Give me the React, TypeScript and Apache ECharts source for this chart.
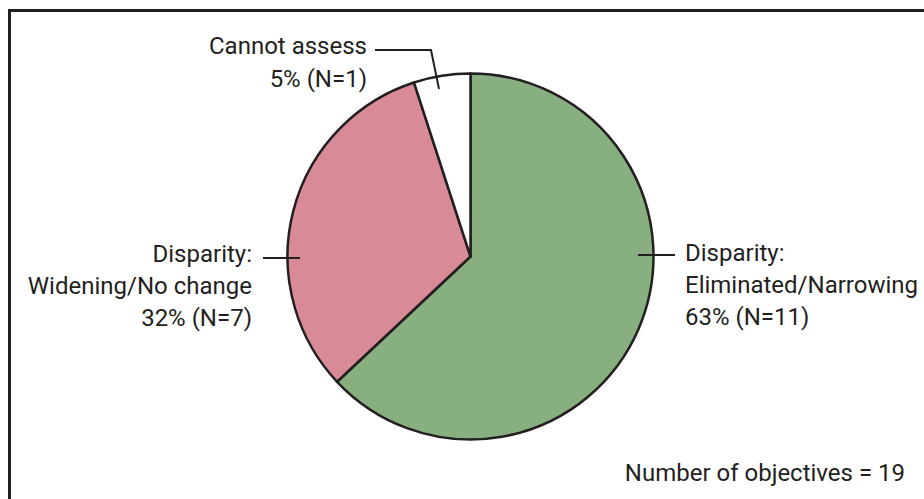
import React, { useEffect, useRef } from "react";
import * as echarts from "echarts";

const categories = ["Disparity: Eliminated/Narrowing", "Disparity: Widening/No change", "Cannot assess"];
const percents = [63, 32, 5];
const counts = [11, 7, 1];
const totalObjectives = 19;
const colors = ["#87AF7F", "#D88B96", "#FFFFFF"];

const INK = "#231F20";
const FONT = "Roboto, 'Liberation Sans', sans-serif";
const FS = 24;

export default function App() {
  const ref = useRef<HTMLDivElement>(null);
  useEffect(() => {
    if (!ref.current) return;
    const chart = echarts.init(ref.current, undefined, { renderer: "svg" });
    const cx = 470.5, cy = 256.5, r = 183;
    const pctLabel = (i: number) => `${percents[i]}% (N=${counts[i]})`;
    const txt = (x: number, y: number, text: string, align: string) => ({
      type: "text",
      x,
      y,
      style: { text, fill: INK, font: `${FS}px ${FONT}`, textAlign: align, textVerticalAlign: "middle", lineHeight: 32 },
    });
    const ln = (pts: number[][]) => ({
      type: "polyline",
      shape: { points: pts },
      style: { stroke: INK, lineWidth: 2, fill: "none" },
      z: 10,
    });
    chart.setOption({
      animation: false,
      backgroundColor: "#fff",
      series: [
        {
          type: "pie",
          center: [cx, cy],
          radius: r,
          startAngle: 90,
          clockwise: true,
          label: { show: false },
          labelLine: { show: false },
          emphasis: { disabled: true },
          itemStyle: { borderColor: INK, borderWidth: 2.5 },
          data: categories.map((name, i) => ({ name, value: percents[i], itemStyle: { color: colors[i] } })),
        },
      ],
      graphic: [
        { type: "line", shape: { x1: 8, y1: 10.5, x2: 924, y2: 10.5 }, style: { stroke: INK, lineWidth: 3 } },
        { type: "line", shape: { x1: 9.5, y1: 9, x2: 9.5, y2: 499 }, style: { stroke: INK, lineWidth: 3 } },
        // Cannot assess
        txt(367, 46, categories[2], "right"),
        txt(367, 79, pctLabel(2), "right"),
        ln([[375, 50], [431, 50], [439, 89]]),
        // Widening
        txt(252, 254, "Disparity:", "right"),
        txt(252, 286, "Widening/No change", "right"),
        txt(252, 318, pctLabel(1), "right"),
        ln([[263, 258], [300, 258]]),
        // Eliminated
        txt(685, 253, "Disparity:", "left"),
        txt(685, 285, "Eliminated/Narrowing", "left"),
        txt(685, 317, pctLabel(0), "left"),
        ln([[638, 255], [675, 255]]),
        txt(905, 473, `Number of objectives = ${totalObjectives}`, "right"),
      ],
    });
    return () => chart.dispose();
  }, []);
  return <div ref={ref} style={{ position: "fixed", left: 0, top: 0, width: 924, height: 499 }} />;
}
